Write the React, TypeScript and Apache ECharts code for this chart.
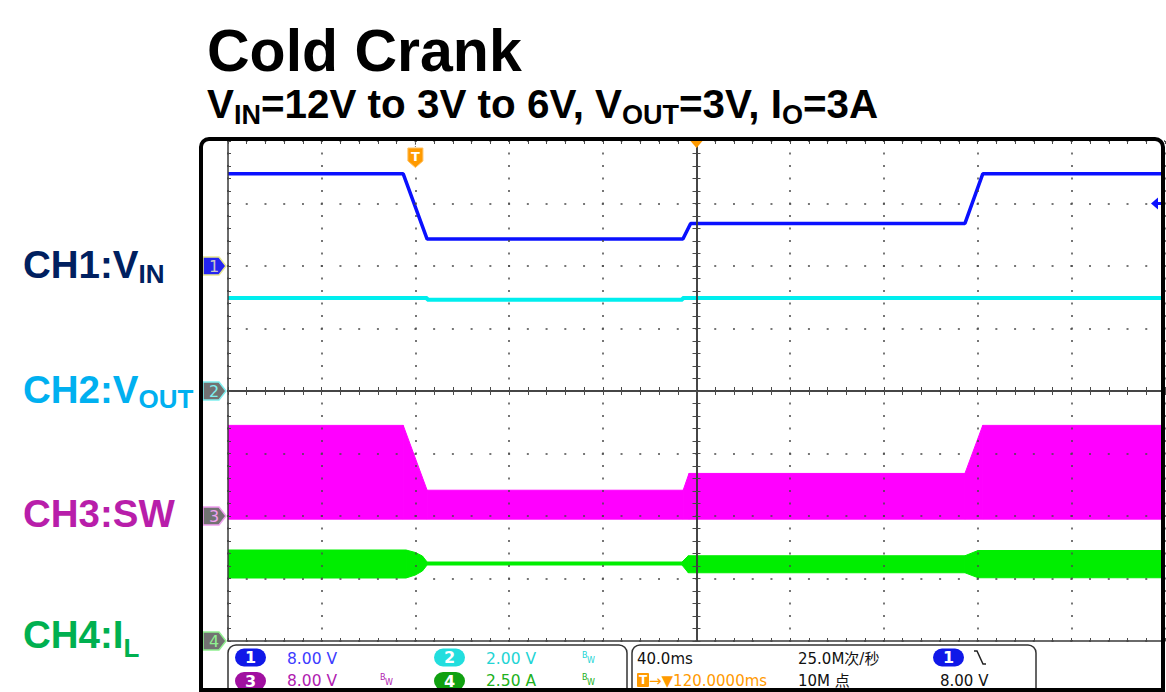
import React, { useEffect, useRef } from "react";
import * as echarts from "echarts";

// ---------------- data (read from the scope screen) ----------------
// time in ms from the left edge of the screen (40 ms / div, 10 div)
const vinTime = [0, 74.8, 85.0, 194.2, 197.5, 314.6, 322.2, 400];
const vinVolts = [11.8, 11.8, 3.45, 3.45, 5.45, 5.45, 11.8, 11.8];

const voutTime = [0, 85.0, 85.1, 194.0, 194.1, 400];
const voutVolts = [2.98, 2.98, 2.92, 2.92, 2.98, 2.98];

const swTime = [0, 74.8, 85.0, 194.3, 196.8, 314.6, 322.2, 400];
const swHigh = [11.6, 11.6, 3.3, 3.3, 5.45, 5.45, 11.6, 11.6];
const swLow = [-0.4, -0.4, -0.4, -0.4, -0.4, -0.4, -0.4, -0.4];

const ilTime = [0, 76, 80, 83, 85, 193.8, 196.5, 314.6, 320.2, 400];
const ilHigh = [3.64, 3.64, 3.54, 3.4, 3.16, 3.16, 3.41, 3.41, 3.62, 3.62];
const ilLow = [2.52, 2.52, 2.64, 2.8, 3.04, 3.04, 2.73, 2.73, 2.53, 2.53];

// channel settings
const unitsPerDiv = [8, 2, 8, 2.5];
const groundDiv = [2, 0, -2, -4]; // ground marker, divisions from centre
const triggerTimeMs = 80;
const centreTimeMs = 200;
const triggerLevel = 8;

// texts
const titleText = "Cold Crank";
const subtitlePieces = [
  { t: "V" }, { t: "IN", sub: true }, { t: "=12V to 3V to 6V, V" }, { t: "OUT", sub: true },
  { t: "=3V, I" }, { t: "O", sub: true }, { t: "=3A" },
];
const chLabelMain = ["CH1:V", "CH2:V", "CH3:SW", "CH4:I"];
const chLabelSub = ["IN", "OUT", "", "L"];
const chIds = ["1", "2", "3", "4"];
const chScaleText = ["8.00 V", "2.00 V", "8.00 V", "2.50 A"];
const chBW = [false, true, true, true];
const timebaseText = "40.0ms";
const sampleRateText = "25.0M次/秒";
const recordLenText = "10M 点";
const triggerPosText = "→▼120.0000ms";
const triggerLevelText = "8.00 V";

// ---------------- styles ----------------
const SANS = "Liberation Sans";
const MONO = "DejaVu Sans";
const CJK = "DejaVu Sans, Noto Sans CJK SC";
const TRACE = ["#0a10ff", "#00eeee", "#ff00ff", "#00ee00"];
const LABEL = ["#002060", "#00B0F0", "#B81EAA", "#00B050"];
const PILL = ["#1018e8", "#22dede", "#a010a0", "#10a010"];
const READ = ["#3c3cff", "#22d4d4", "#b020b0", "#20b020"];
const MARK_STROKE = ["#e8e890", "#7ff0f0", "#f0a0f0", "#90f090"];
const MARK_TEXT = ["#c8c8c8", "#7ff0f0", "#f0a0f0", "#90f090"];
const ORANGE = "#ff9a00";
const DOT = "#4a4a4a";
const LINE = "#3a3a3a";

const GRID = { left: 228, top: 141, width: 937, height: 500 };

let measureCtx: CanvasRenderingContext2D | null = null;
function textWidth(text: string, font: string) {
  if (!measureCtx) measureCtx = document.createElement("canvas").getContext("2d");
  if (!measureCtx) return text.length * 10;
  measureCtx.font = font;
  return measureCtx.measureText(text).width;
}

function txt(x: number, baseline: number, text: string, size: number, fill: string, family: string, weight = "normal", align = "left") {
  return {
    type: "text", x, y: baseline - 0.3465 * size, z: 120,
    style: { text, fontSize: size, fontWeight: weight, fontFamily: family, fill, align, verticalAlign: "middle" },
  };
}

function subText(pieces: { t: string; sub?: boolean }[], x: number, base: number, size: number, subSize: number, subDy: number, color: string) {
  const els: any[] = [];
  let cx = x;
  for (const p of pieces) {
    if (!p.t) continue;
    const s = p.sub ? subSize : size;
    els.push(txt(cx, p.sub ? base + subDy : base, p.t, s, color, SANS, "bold"));
    cx += textWidth(p.t, `bold ${s}px "${SANS}"`);
  }
  return els;
}

const pairs = (t: number[], v: number[]) => t.map((x, i) => [x, v[i]]);
const bandRows = (t: number[], hi: number[], lo: number[]) => t.map((x, i) => [x, hi[i], lo[i]]);

// band between high and low envelope, drawn segment by segment through the axes
function bandSeries(name: string, yAxisIndex: number, data: number[][], color: string) {
  return {
    type: "custom", name, xAxisIndex: 0, yAxisIndex, silent: true, z: 2, clip: true,
    encode: { x: 0, y: [1, 2] },
    data,
    renderItem: (params: any, api: any) => {
      const i = params.dataIndexInside;
      if (i >= params.dataInsideLength - 1) return null;
      const t0 = api.value(0, i), h0 = api.value(1, i), l0 = api.value(2, i);
      const t1 = api.value(0, i + 1), h1 = api.value(1, i + 1), l1 = api.value(2, i + 1);
      const pts = [api.coord([t0, h0]), api.coord([t1, h1]), api.coord([t1, l1]), api.coord([t0, l0])];
      return {
        type: "polygon",
        shape: { points: pts },
        style: { fill: color, stroke: color, lineWidth: 1 },
      };
    },
  };
}

function divAxisBase(extra: any) {
  return {
    type: "value", gridIndex: 0, z: 5, silent: true,
    axisLabel: { show: false },
    splitLine: { show: false },
    ...extra,
  };
}

export default function App() {
  const ref = useRef<HTMLDivElement>(null);
  useEffect(() => {
    const chart = echarts.init(ref.current!, null, { renderer: "svg" });

    const tickStyle = { color: DOT, width: 1 };
    const xAxis: any[] = [
      { type: "value", min: 0, max: 400, show: false },
      divAxisBase({
        min: -5, max: 5, interval: 1, position: "bottom",
        axisLine: { show: true, onZero: false, lineStyle: { color: LINE, width: 1.5 } },
        axisTick: { show: true, inside: true, length: 3, lineStyle: tickStyle },
        minorTick: { show: true, splitNumber: 5, length: 3, lineStyle: tickStyle },
        splitLine: { show: true, lineStyle: { color: DOT, width: 1.5, type: [2, 10.5], dashOffset: 1 } },
      }),
      divAxisBase({
        min: -5, max: 5, interval: 1, position: "top",
        axisLine: { show: false, onZero: false },
        axisTick: { show: true, inside: true, length: 3, lineStyle: tickStyle },
        minorTick: { show: true, splitNumber: 5, length: 3, lineStyle: tickStyle },
      }),
      divAxisBase({
        min: -5, max: 5, interval: 1, position: "bottom",
        axisLine: { show: true, onZero: true, onZeroAxisIndex: 4, lineStyle: { color: LINE, width: 1.5 } },
        axisTick: { show: true, inside: true, length: 4, lineStyle: tickStyle },
        minorTick: { show: true, splitNumber: 5, length: 4, lineStyle: tickStyle },
      }),
      divAxisBase({
        min: -5, max: 5, interval: 1, position: "bottom",
        axisLine: { show: true, onZero: true, onZeroAxisIndex: 4, lineStyle: { color: LINE, width: 1.5 } },
        axisTick: { show: true, inside: false, length: 4, lineStyle: tickStyle },
        minorTick: { show: true, splitNumber: 5, length: 4, lineStyle: tickStyle },
      }),
    ];

    const yAxis: any[] = unitsPerDiv.map((u, i) => ({
      type: "value", show: false, min: (-4 - groundDiv[i]) * u, max: (4 - groundDiv[i]) * u,
    }));
    yAxis.push(
      divAxisBase({
        min: -4, max: 4, interval: 1, position: "left",
        axisLine: { show: true, onZero: false, lineStyle: { color: LINE, width: 1.5 } },
        axisTick: { show: true, inside: true, length: 3, lineStyle: tickStyle },
        minorTick: { show: true, splitNumber: 5, length: 3, lineStyle: tickStyle },
        splitLine: { show: true, lineStyle: { color: DOT, width: 1.5, type: [2, 16.74], dashOffset: 1 } },
      }),
      divAxisBase({
        min: -4, max: 4, interval: 1, position: "left",
        axisLine: { show: true, onZero: true, onZeroAxisIndex: 1, lineStyle: { color: LINE, width: 1.5 } },
        axisTick: { show: true, inside: true, length: 4, lineStyle: tickStyle },
        minorTick: { show: true, splitNumber: 5, length: 4, lineStyle: tickStyle },
      }),
      divAxisBase({
        min: -4, max: 4, interval: 1, position: "left",
        axisLine: { show: true, onZero: true, onZeroAxisIndex: 1, lineStyle: { color: LINE, width: 1.5 } },
        axisTick: { show: true, inside: false, length: 4, lineStyle: tickStyle },
        minorTick: { show: true, splitNumber: 5, length: 4, lineStyle: tickStyle },
      })
    );

    const lineBase = { type: "line", xAxisIndex: 0, symbol: "none", silent: true, z: 3 };
    const series: any[] = [
      bandSeries("CH3:SW", 2, bandRows(swTime, swHigh, swLow), TRACE[2]),
      bandSeries("CH4:IL", 3, bandRows(ilTime, ilHigh, ilLow), TRACE[3]),
      { ...lineBase, name: "CH2:VOUT", yAxisIndex: 1, data: pairs(voutTime, voutVolts), lineStyle: { color: TRACE[1], width: 4 } },
      { ...lineBase, name: "CH1:VIN", yAxisIndex: 0, data: pairs(vinTime, vinVolts), lineStyle: { color: TRACE[0], width: 3.5 } },
    ];

    chart.setOption({
      animation: false,
      backgroundColor: "#ffffff",
      grid: { ...GRID, containLabel: false },
      xAxis,
      yAxis,
      series,
    });

    // ---------- decorations positioned through the axes ----------
    const g: any[] = [];
    const gx = GRID.left;
    const groundPx = [0, 1, 2, 3].map((i) => chart.convertToPixel({ yAxisIndex: i }, 0) as number);

    // title & subtitle
    g.push(txt(207, 71, titleText, 59, "#000", SANS, "bold"));
    g.push(...subText(subtitlePieces, 207, 118, 40.4, 27, 6, "#000"));

    // channel labels
    const labelBase = [278, 403, 527, 648];
    const subDy = [5, 5, 5, 9];
    for (let i = 0; i < 4; i++) {
      g.push(...subText([{ t: chLabelMain[i] }, { t: chLabelSub[i], sub: true }], 23, labelBase[i], 38.5, 26, subDy[i], LABEL[i]));
    }

    // channel ground markers
    for (let i = 0; i < 4; i++) {
      const y = groundPx[i];
      g.push({
        type: "polygon", z: 110,
        shape: { points: [[gx - 25, y - 9], [gx - 9, y - 9], [gx - 2, y], [gx - 9, y + 9], [gx - 25, y + 9]] },
        style: { fill: i === 0 ? "#2424f0" : "#727272", stroke: MARK_STROKE[i], lineWidth: 1.5 },
      });
      g.push({
        type: "text", x: gx - 14, y, z: 111,
        style: { text: chIds[i], fontSize: 16, fontFamily: MONO, fill: MARK_TEXT[i], align: "center", verticalAlign: "middle" },
      });
    }

    // trigger position marker and centre marker
    const tx = chart.convertToPixel({ xAxisIndex: 0 }, triggerTimeMs) as number;
    const cx = chart.convertToPixel({ xAxisIndex: 0 }, centreTimeMs) as number;
    g.push({ type: "line", z: 110, shape: { x1: tx, y1: 142, x2: tx, y2: 148 }, style: { stroke: "#777", lineWidth: 1, lineDash: [1, 1] } });
    g.push({
      type: "polygon", z: 110,
      shape: { points: [[tx - 7.5, 148], [tx + 7.5, 148], [tx + 7.5, 161], [tx, 167.5], [tx - 7.5, 161]] },
      style: { fill: ORANGE, stroke: "#ffc060", lineWidth: 1 },
    });
    g.push({ type: "text", x: tx, y: 156.5, z: 111, style: { text: "T", fontSize: 13, fontWeight: "bold", fontFamily: MONO, fill: "#fff", align: "center", verticalAlign: "middle" } });
    g.push({ type: "polygon", z: 110, shape: { points: [[cx - 6, 141], [cx + 6, 141], [cx, 148]] }, style: { fill: ORANGE } });

    // trigger level arrow (right side)
    const ly = chart.convertToPixel({ yAxisIndex: 0 }, triggerLevel) as number;
    g.push({ type: "polygon", z: 110, shape: { points: [[1151, ly], [1158, ly - 6], [1158, ly + 6]] }, style: { fill: TRACE[0] } });
    g.push({ type: "rect", z: 110, shape: { x: 1157, y: ly - 1.5, width: 5, height: 3 }, style: { fill: TRACE[0] } });

    // status boxes
    g.push({ type: "rect", z: 105, shape: { x: 228, y: 645, width: 399, height: 60, r: 8 }, style: { fill: "none", stroke: "#333", lineWidth: 1.5 } });
    g.push({ type: "rect", z: 105, shape: { x: 632, y: 645, width: 404, height: 60, r: 8 }, style: { fill: "none", stroke: "#333", lineWidth: 1.5 } });

    const rowBase = [664.5, 686];
    const rowTop = [648.5, 672];
    const pillX = [235, 434, 235, 434];
    const valX = [287, 486, 287, 486];
    const bwX = [0, 582, 380, 582];
    for (let i = 0; i < 4; i++) {
      const r = i < 2 ? 0 : 1;
      g.push({ type: "rect", z: 106, shape: { x: pillX[i], y: rowTop[r], width: 31, height: 18, r: 9 }, style: { fill: PILL[i] } });
      g.push({ type: "text", x: pillX[i] + 15.5, y: rowTop[r] + 9, z: 107, style: { text: chIds[i], fontSize: 16, fontWeight: "bold", fontFamily: MONO, fill: "#fff", align: "center", verticalAlign: "middle" } });
      g.push(txt(valX[i], rowBase[r], chScaleText[i], 15.5, READ[i], MONO));
      if (chBW[i]) {
        g.push(txt(bwX[i], rowBase[r] - 6, "B", 8, READ[i], MONO));
        g.push(txt(bwX[i] + 5, rowBase[r] - 1, "W", 8, READ[i], MONO));
      }
    }
    g.push(txt(637, rowBase[0], timebaseText, 15, "#111", MONO));
    g.push(txt(798, rowBase[0], sampleRateText, 15, "#111", CJK));
    g.push(txt(798, rowBase[1], recordLenText, 15, "#111", CJK));
    g.push({ type: "rect", z: 106, shape: { x: 637, y: 673, width: 12, height: 14, r: 1 }, style: { fill: ORANGE } });
    g.push({ type: "text", x: 643, y: 680, z: 107, style: { text: "T", fontSize: 12, fontWeight: "bold", fontFamily: MONO, fill: "#fff", align: "center", verticalAlign: "middle" } });
    g.push(txt(649, rowBase[1], triggerPosText, 15, ORANGE, MONO));
    g.push({ type: "rect", z: 106, shape: { x: 933, y: rowTop[0], width: 31, height: 18, r: 9 }, style: { fill: PILL[0] } });
    g.push({ type: "text", x: 948.5, y: rowTop[0] + 9, z: 107, style: { text: "1", fontSize: 16, fontWeight: "bold", fontFamily: MONO, fill: "#fff", align: "center", verticalAlign: "middle" } });
    g.push({ type: "polyline", z: 107, shape: { points: [[974, 651], [977, 651], [983, 664], [986, 664]] }, style: { stroke: "#222", lineWidth: 1.5, fill: "none" } });
    g.push(txt(940, rowBase[1], triggerLevelText, 15, "#111", MONO));

    // black screen frame
    g.push({ type: "rect", z: 130, shape: { x: 201, y: 139, width: 962, height: 551, r: [8, 8, 0, 0] }, style: { fill: "none", stroke: "#000", lineWidth: 4 } });

    chart.setOption({ graphic: { elements: g } });

    return () => chart.dispose();
  }, []);
  return <div ref={ref} style={{ position: "absolute", left: 0, top: 0, width: 1166, height: 692 }} />;
}
